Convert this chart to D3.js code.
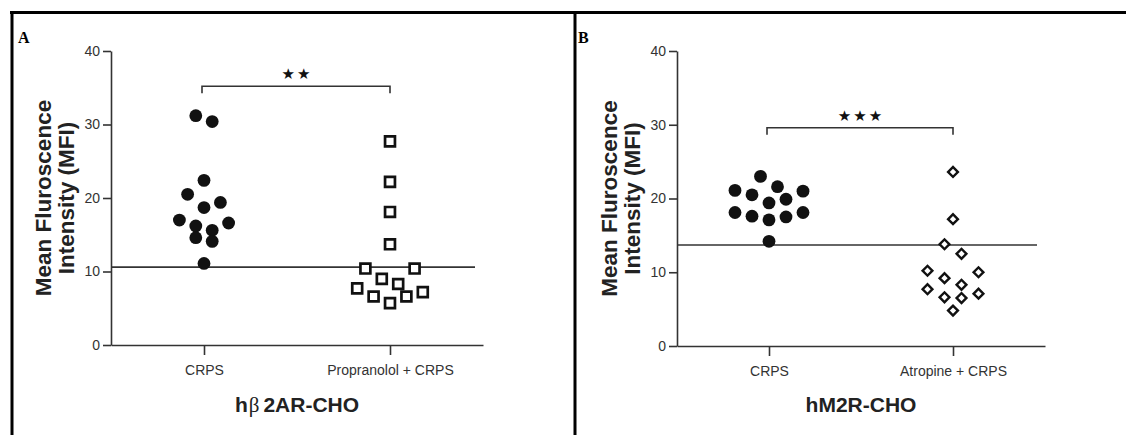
<!DOCTYPE html>
<html>
<head>
<meta charset="utf-8">
<script src="https://cdn.jsdelivr.net/npm/d3@7"></script>
<style>
  html, body { margin: 0; padding: 0; background: #fff; }
  svg { display: block; }
  text { font-family: "Liberation Sans", Arial, sans-serif; }
</style>
</head>
<body>
<svg id="chart" width="1126" height="435"></svg>
<script>
// ---- data (MFI per serum sample) ----
const yTicks = [0, 10, 20, 30, 40];

const groupsA = ["CRPS", "Propranolol + CRPS"];
const crpsA = [31.2, 30.4, 22.4, 20.5, 19.4, 18.7, 17.0, 16.6, 16.2, 15.6, 14.6, 14.1, 11.1];
const propranololA = [27.7, 22.2, 18.1, 13.7, 10.4, 10.4, 9.0, 8.3, 7.7, 7.2, 6.6, 6.6, 5.7];
const cutoffA = 10.6;
const bracketA = 35.2;
const sigA = "★★";
const titleA = ["h", "β", "2AR-CHO"];

const groupsB = ["CRPS", "Atropine + CRPS"];
const crpsB = [23.0, 21.6, 21.1, 21.0, 20.5, 19.9, 19.4, 18.1, 18.1, 17.6, 17.5, 17.1, 14.2];
const atropineB = [23.6, 17.2, 13.8, 12.5, 10.2, 10.0, 9.2, 8.3, 7.7, 7.1, 6.6, 6.5, 4.8];
const cutoffB = 13.7;
const bracketB = 29.6;
const sigB = "★★★";
const titleB = ["hM2R-CHO"];

const yTitle = ["Mean Fluroscence", "Intensity (MFI)"];

// ---- drawing ----
const svg = d3.select("#chart");
const ink = "#222";

// frame lines around the two panels
const frame = svg.append("g").attr("stroke", "#000").attr("stroke-width", 3);
frame.append("line").attr("x1", 10).attr("x2", 1126).attr("y1", 12.5).attr("y2", 12.5);
frame.append("line").attr("x1", 12).attr("x2", 12).attr("y1", 11).attr("y2", 435);
frame.append("line").attr("x1", 575).attr("x2", 575).attr("y1", 11).attr("y2", 435);

// Column-scatter layout: points are sorted, grouped into rows of similar value,
// and each row is spread symmetrically around the column centre
// (highest value outermost left, next outermost right, lowest in the middle).
function scatterLanes(values, y, laneW, minDist, rowH) {
  const order = d3.range(values.length).sort((a, b) => values[b] - values[a]);
  const lanes = new Array(values.length);
  const placed = [];
  let i = 0;
  while (i < order.length) {
    const top = values[order[i]];
    let j = i;
    while (j < order.length && top - values[order[j]] < rowH) j++;
    const row = order.slice(i, j);
    const n = row.length;
    row.forEach((k, r) => {
      const side = r % 2 === 0 ? -1 : 1;
      let lane = (n % 2 === 1 && r === n - 1) ? 0 : side * ((n - 1) - 2 * Math.floor(r / 2));
      const py = y(values[k]);
      const hits = l => placed.some(p => Math.hypot((p.lane - l) * laneW, p.y - py) < minDist);
      let guard = 0;
      while (hits(lane) && guard++ < 10) {
        const s = lane === 0 ? -1 : Math.sign(lane);
        lane += 2 * s;
      }
      lanes[k] = lane;
      placed.push({ lane, y: py });
    });
    i = j;
  }
  return lanes;
}

function panel(cfg) {
  const g = svg.append("g");
  const x = d3.scalePoint().domain(cfg.groups).range([cfg.x0, cfg.x1]).padding(0.5);
  const y = d3.scaleLinear().domain([0, 40]).range([cfg.yBottom, 51]);

  // axes
  const yAxis = g.append("g")
    .attr("transform", `translate(${cfg.x0},0)`)
    .call(d3.axisLeft(y).tickValues(yTicks).tickSize(8).tickSizeOuter(0).tickPadding(3));
  const xAxis = g.append("g")
    .attr("transform", `translate(0,${cfg.yBottom})`)
    .call(d3.axisBottom(x).tickSize(10).tickSizeOuter(0).tickPadding(10));
  [yAxis, xAxis].forEach(a => {
    a.select(".domain").attr("stroke", "#333").attr("stroke-width", 1.6);
    a.selectAll(".tick line").attr("stroke", "#333").attr("stroke-width", 1.6);
    a.selectAll(".tick text").attr("fill", "#333").style("font-size", "14px")
      .style("font-family", "'Liberation Sans', Arial, sans-serif");
  });

  // cut-off line
  g.append("line")
    .attr("x1", cfg.x0).attr("x2", cfg.x1 - 8)
    .attr("y1", y(cfg.cutoff)).attr("y2", y(cfg.cutoff))
    .attr("stroke", "#333").attr("stroke-width", 1.6);

  // significance bracket
  const bx1 = x(cfg.groups[0]) - 2, bx2 = x(cfg.groups[1]);
  const by = y(cfg.bracket);
  g.append("path")
    .attr("d", `M${bx1},${by + 7}V${by}H${bx2}V${by + 7}`)
    .attr("fill", "none").attr("stroke", "#333").attr("stroke-width", 1.6);
  g.append("text")
    .attr("x", (bx1 + bx2) / 2 + 1).attr("y", by - 7)
    .attr("text-anchor", "middle")
    .style("font-family", "'DejaVu Sans', sans-serif")
    .style("font-size", "15px").style("letter-spacing", "2px")
    .attr("fill", "#111").text(cfg.sig);

  // filled circles: CRPS
  const laneW = cfg.laneW;
  const lanesL = scatterLanes(cfg.left, y, laneW, 11, 1.85);
  g.append("g").selectAll("circle").data(cfg.left).join("circle")
    .attr("cx", (d, i) => x(cfg.groups[0]) + lanesL[i] * laneW)
    .attr("cy", d => y(d))
    .attr("r", 6.4)
    .attr("fill", "#111");

  // open symbols: treated group
  const lanesR = scatterLanes(cfg.right, y, laneW, cfg.shape === "square" ? 11 : 10, 2.2);
  const sym = cfg.shape === "square"
    ? d3.symbol().type(d3.symbolSquare).size(98)
    : d3.symbol().type(d3.symbolSquare).size(48);
  g.append("g").selectAll("path").data(cfg.right).join("path")
    .attr("d", sym)
    .attr("transform", (d, i) => `translate(${x(cfg.groups[1]) + lanesR[i] * laneW},${y(d)})` +
      (cfg.shape === "square" ? "" : " rotate(45)"))
    .attr("fill", "#fff")
    .attr("stroke", "#111")
    .attr("stroke-width", cfg.shape === "square" ? 2.7 : 2.4)
    .attr("stroke-linejoin", "miter");

  // y-axis title (two lines)
  const yt = g.append("g")
    .attr("transform", `translate(${cfg.x0 - 60},${(cfg.yBottom + 51) / 2}) rotate(-90)`);
  yt.selectAll("text").data(yTitle).join("text")
    .attr("x", 0).attr("y", (d, i) => i * 23)
    .attr("text-anchor", "middle")
    .style("font-size", "22.5px").style("font-weight", "bold")
    .attr("fill", ink).text(d => d);

  // x-axis title
  const t = g.append("text")
    .attr("x", (cfg.x0 + cfg.x1) / 2).attr("y", 412)
    .attr("text-anchor", "middle")
    .style("font-size", "21px").style("font-weight", "bold")
    .attr("fill", ink);
  cfg.title.forEach((part, i) => {
    const ts = t.append("tspan").text(part);
    if (part === "β") {
      ts.style("font-weight", "normal").style("font-family", "'Liberation Serif', serif")
        .attr("dx", 1);
    } else if (i > 0) {
      ts.attr("dx", 4);
    }
  });

  // panel letter
  g.append("text")
    .attr("x", cfg.letterX).attr("y", 43)
    .style("font-family", "'Liberation Serif', 'Times New Roman', serif")
    .style("font-size", "16px").style("font-weight", "bold")
    .attr("fill", "#000").text(cfg.letter);
}

panel({
  letter: "A", letterX: 18, laneW: 8.2,
  groups: groupsA, left: crpsA, right: propranololA, shape: "square",
  cutoff: cutoffA, bracket: bracketA, sig: sigA, title: titleA,
  x0: 111, x1: 483, yBottom: 345
});

panel({
  letter: "B", letterX: 578, laneW: 8.5,
  groups: groupsB, left: crpsB, right: atropineB, shape: "diamond",
  cutoff: cutoffB, bracket: bracketB, sig: sigB, title: titleB,
  x0: 677, x1: 1045, yBottom: 346
});
</script>
</body>
</html>
